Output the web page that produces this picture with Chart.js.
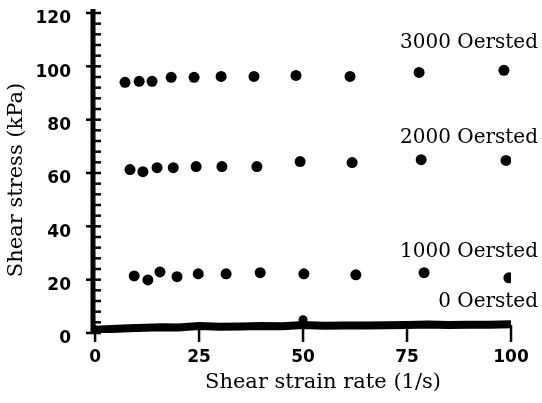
<!DOCTYPE html>
<html>
<head>
<meta charset="utf-8">
<script src="https://cdn.jsdelivr.net/npm/chart.js@4.4.1/dist/chart.umd.min.js"></script>
<style>
  html, body { margin: 0; padding: 0; background: #fff; }
  #wrap { width: 542px; height: 403px; }
</style>
</head>
<body>
<div id="wrap"><canvas id="chart" width="542" height="403"></canvas></div>
<script>
// tick values
const xTicks = [0, 25, 50, 75, 100];
const yTicks = [0, 20, 40, 60, 80, 100, 120];

// shear strain rate (1/s) and shear stress (kPa) per field strength
const rate3000 = [7.2, 10.6, 13.7, 18.3, 23.8, 30.3, 38.2, 48.3, 61.3, 77.9, 98.3];
const stress3000 = [94.0, 94.4, 94.4, 95.9, 95.9, 96.2, 96.2, 96.6, 96.2, 97.7, 98.5];

const rate2000 = [8.4, 11.5, 14.9, 18.8, 24.3, 30.5, 38.9, 49.3, 61.8, 78.4, 98.8];
const stress2000 = [61.3, 60.5, 62.0, 62.0, 62.4, 62.4, 62.4, 64.3, 63.9, 65.0, 64.7];

const rate1000 = [9.4, 12.7, 15.6, 19.7, 24.8, 31.5, 39.7, 50.2, 62.7, 79.1, 99.5];
const stress1000 = [21.4, 19.9, 22.9, 21.1, 22.2, 22.2, 22.6, 22.2, 21.8, 22.6, 20.7];

const rate0 = [0, 4, 8, 12, 16, 20, 25, 30, 35, 40, 45, 50, 55, 60, 65, 70, 75, 80, 85, 90, 95, 100];
const stress0 = [1.2, 1.5, 1.8, 2.0, 2.2, 2.1, 2.6, 2.3, 2.4, 2.6, 2.5, 3.0, 2.7, 2.8, 2.8, 2.9, 3.0, 3.2, 3.0, 3.1, 3.1, 3.3];
const markedRate0 = [50];
const markedStress0 = [5];

const seriesNames = ['3000 Oersted', '2000 Oersted', '1000 Oersted', '0 Oersted'];
const xTitle = 'Shear strain rate (1/s)';
const yTitle = 'Shear stress (kPa)';

const toPoints = (xs, ys) => xs.map((x, i) => ({ x: x, y: ys[i] }));

const dotSet = (name, xs, ys, r) => ({
  label: name,
  type: 'scatter',
  data: toPoints(xs, ys),
  pointRadius: r,
  pointHoverRadius: r,
  pointBackgroundColor: '#000',
  pointBorderWidth: 0,
  showLine: false
});

// tick marks on both axes, plus series names and axis titles
const decorations = {
  id: 'decorations',
  afterDraw(chart) {
    const ctx = chart.ctx;
    const xs = chart.scales.x, ys = chart.scales.y;
    const ax = xs.getPixelForValue(xs.min);
    const ay = ys.getPixelForValue(0);
    ctx.save();
    ctx.strokeStyle = '#000';
    ctx.lineCap = 'butt';

    // axis line runs a little past the top tick
    ctx.lineWidth = 5;
    ctx.beginPath();
    ctx.moveTo(ax, ys.getPixelForValue(120) - 4);
    ctx.lineTo(ax, ay + 1);
    ctx.stroke();

    // y minor ticks (inside) every 4, major ticks crossing every 20
    ctx.lineWidth = 2.5;
    for (let v = 0; v <= 120; v += 4) {
      const py = ys.getPixelForValue(v);
      const major = v % 20 === 0;
      ctx.beginPath();
      ctx.moveTo(major ? ax - 7 : ax, py);
      ctx.lineTo(ax + 8, py);
      ctx.stroke();
    }

    // x ticks crossing the axis
    xTicks.forEach(v => {
      const px = xs.getPixelForValue(v);
      ctx.beginPath();
      ctx.moveTo(px, ay - 8);
      ctx.lineTo(px, ay + 9);
      ctx.stroke();
    });

    // series names
    ctx.fillStyle = '#000';
    ctx.font = '20px "DejaVu Serif"';
    ctx.textAlign = 'right';
    ctx.textBaseline = 'middle';
    const right = chart.chartArea.right + 27;
    const nameY = [108.7, 73.1, 30.4, 11.6];
    seriesNames.forEach((n, i) => {
      ctx.fillText(n, right, ys.getPixelForValue(nameY[i]));
    });

    // axis titles
    ctx.font = '21px "DejaVu Serif"';
    ctx.textAlign = 'center';
    ctx.fillText(xTitle, 323, 383);
    ctx.translate(17, 180);
    ctx.rotate(-Math.PI / 2);
    ctx.fillText(yTitle, 0, 0);
    ctx.restore();
  }
};

const tickFont = { family: 'DejaVu Sans', size: 17, weight: 'bold' };

new Chart(document.getElementById('chart'), {
  type: 'scatter',
  data: {
    datasets: [
      dotSet(seriesNames[0], rate3000, stress3000, 5.5),
      dotSet(seriesNames[1], rate2000, stress2000, 5.5),
      dotSet(seriesNames[2], rate1000, stress1000, 5.5),
      {
        label: seriesNames[3],
        type: 'line',
        data: toPoints(rate0, stress0),
        borderColor: '#000',
        borderWidth: 8,
        tension: 0,
        pointRadius: 0,
        fill: false
      },
      dotSet(seriesNames[3], markedRate0, markedStress0, 4.5)
    ]
  },
  options: {
    responsive: false,
    animation: false,
    events: [],
    layout: { padding: { top: 13, right: 31, bottom: 0, left: 0 } },
    plugins: {
      legend: { display: false },
      tooltip: { enabled: false }
    },
    scales: {
      x: {
        type: 'linear',
        min: -0.5,
        max: 100,
        afterFit(scale) { scale.height = 70; },
        afterBuildTicks(scale) { scale.ticks = xTicks.map(v => ({ value: v })); },
        grid: { display: false, drawTicks: true, tickLength: 14 },
        border: { display: false },
        ticks: { color: '#000', font: tickFont, padding: 0, maxRotation: 0 }
      },
      y: {
        type: 'linear',
        min: 0,
        max: 120,
        afterFit(scale) { scale.width = 93; },
        afterBuildTicks(scale) { scale.ticks = yTicks.map(v => ({ value: v })); },
        grid: { display: false, drawTicks: true, tickLength: 22 },
        border: { display: false },
        ticks: { color: '#000', font: tickFont, padding: 0, labelOffset: 6 }
      }
    }
  },
  plugins: [decorations]
});
</script>
</body>
</html>
